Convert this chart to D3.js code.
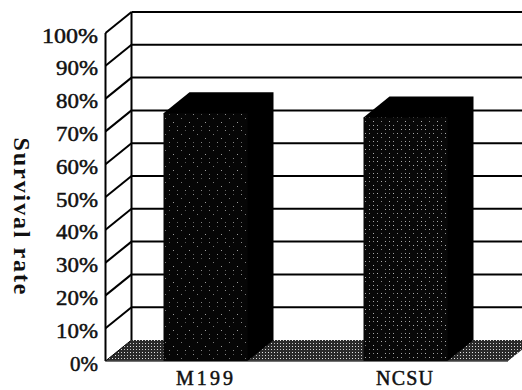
<!DOCTYPE html>
<html>
<head>
<meta charset="utf-8">
<script src="https://d3js.org/d3.v7.min.js"></script>
<style>
  html, body { margin: 0; padding: 0; background: #fff; overflow: hidden; }
  svg { display: block; }
  text { font-family: "Liberation Serif", serif; fill: #111; }
</style>
</head>
<body>
<svg id="chart"></svg>
<script>
const categories = ['M199', 'NCSU']
const survival = [75.5, 74.2]
const tickValues = [0, 10, 20, 30, 40, 50, 60, 70, 80, 90, 100]
const yTitle = 'Survival rate'

const width = 522, height = 390
const depthX = 26, depthY = 21
const frontLeft = 105.5, frontRight = 508, frontBottom = 361, frontTop = 33

const svg = d3.select('#chart').attr('width', width).attr('height', height)

const x = d3.scaleBand().domain(categories).range([frontLeft, 505.5]).paddingInner(0.58).paddingOuter(0.29)
const y = d3.scaleLinear().domain([0, 100]).range([frontBottom, frontTop])

const defs = svg.append('defs')
// halftone fills as scanned: black ground with small light specks
function halftone(id, ground, specks, tile) {
  const p = defs.append('pattern').attr('id', id).attr('patternUnits', 'userSpaceOnUse')
    .attr('width', tile).attr('height', tile)
  p.append('rect').attr('width', tile).attr('height', tile).attr('fill', ground)
  p.selectAll('rect.s').data(specks).enter().append('rect').attr('class', 's')
    .attr('x', d => d[0]).attr('y', d => d[1]).attr('width', 1).attr('height', 1)
    .attr('fill', d => d[2])
}
halftone('sparse', '#060606', [[1, 2, '#888'], [9, 2, '#555'], [5, 6, '#777'], [13, 10, '#999'], [1, 14, '#666'], [9, 14, '#888']], 16)
halftone('dense', '#080808', [[1, 1, '#aaa'], [5, 1, '#888'], [9, 1, '#bbb'], [1, 5, '#999'], [9, 5, '#777'], [13, 5, '#aaa'], [5, 9, '#aaa'], [13, 9, '#888'], [1, 13, '#777'], [5, 13, '#aaa'], [9, 13, '#999']], 16)
halftone('floor', '#2a2a2a', [[1, 1, '#ddd'], [4, 1, '#bbb'], [1, 4, '#ccc'], [4, 4, '#eee']], 6)

// floor
svg.append('polygon')
  .attr('points', [[frontLeft, frontBottom], [frontLeft + depthX, frontBottom - depthY], [frontRight + depthX, frontBottom - depthY], [frontRight, frontBottom]].join(' '))
  .attr('fill', 'url(#floor)')

// gridlines on the back wall and the diagonals on the side wall
const backX = frontLeft + depthX
svg.selectAll('.grid').data(tickValues.filter(d => d > 0)).enter().append('line')
  .attr('class', 'grid')
  .attr('x1', backX).attr('x2', width)
  .attr('y1', d => y(d) - depthY).attr('y2', d => y(d) - depthY)
  .attr('stroke', '#000').attr('stroke-width', 2)
svg.selectAll('.wall').data(tickValues.filter(d => d > 0)).enter().append('line')
  .attr('class', 'wall')
  .attr('x1', frontLeft).attr('x2', backX)
  .attr('y1', d => y(d)).attr('y2', d => y(d) - depthY)
  .attr('stroke', '#000').attr('stroke-width', 2)

svg.append('line').attr('x1', backX).attr('x2', backX)
  .attr('y1', y(100) - depthY).attr('y2', y(0) - depthY)
  .attr('stroke', '#000').attr('stroke-width', 2)
svg.append('line').attr('x1', frontLeft).attr('x2', frontLeft)
  .attr('y1', y(100)).attr('y2', y(0))
  .attr('stroke', '#000').attr('stroke-width', 2)
svg.append('line').attr('x1', frontLeft).attr('x2', frontRight)
  .attr('y1', y(0)).attr('y2', y(0))
  .attr('stroke', '#444').attr('stroke-width', 1.5)
svg.append('line').attr('x1', frontLeft).attr('x2', backX)
  .attr('y1', y(0)).attr('y2', y(0) - depthY)
  .attr('stroke', '#000').attr('stroke-width', 1)

// bars
const bars = svg.selectAll('.bar').data(categories).enter().append('g').attr('class', 'bar')
bars.append('polygon').attr('fill', '#000')
  .attr('points', (d, i) => {
    const l = x(d), r = l + x.bandwidth(), t = y(survival[i]), b = y(0)
    return [[l, t], [l + depthX, t - depthY], [r + depthX, t - depthY], [r + depthX, b - depthY], [r, b]].join(' ')
  })
bars.append('rect')
  .attr('x', d => x(d))
  .attr('y', (d, i) => y(survival[i]))
  .attr('width', x.bandwidth())
  .attr('height', (d, i) => y(0) - y(survival[i]))
  .attr('fill', (d, i) => i === 0 ? 'url(#sparse)' : 'url(#dense)')

// labels
const yAxis = d3.axisLeft(y).tickValues(tickValues).tickSize(0).tickPadding(0).tickFormat(d => d + '%')
const yG = svg.append('g').attr('transform', 'translate(98,2)').call(yAxis)
yG.select('.domain').remove()
yG.selectAll('text')
  .attr('font-size', 22).attr('font-family', '"Liberation Serif", serif')
  .attr('textLength', d => (String(d).length + 1) * 14)
  .attr('lengthAdjust', 'spacingAndGlyphs')
  .attr('fill', '#111').attr('stroke', '#111').attr('stroke-width', 0.5)

svg.selectAll('.cat').data(categories).enter().append('text')
  .attr('class', 'cat')
  .attr('x', d => x(d) + x.bandwidth() / 2 - 1)
  .attr('y', 385)
  .attr('text-anchor', 'middle')
  .attr('font-size', 20)
  .attr('textLength', 57).attr('lengthAdjust', 'spacing')
  .attr('stroke', '#111').attr('stroke-width', 0.5)
  .text(d => d)

svg.append('text')
  .attr('transform', 'translate(14,216) rotate(90)')
  .attr('text-anchor', 'middle')
  .attr('font-size', 24).attr('font-weight', 'bold')
  .attr('textLength', 157).attr('lengthAdjust', 'spacing')
  .text(yTitle)
</script>
</body>
</html>
